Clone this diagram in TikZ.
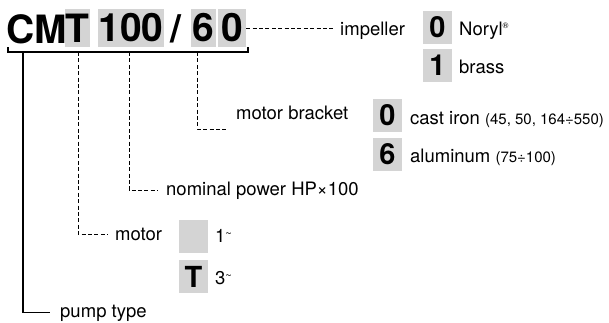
\documentclass[tikz,border=0pt]{standalone}
\usepackage{fontspec}
\setmainfont{TeX Gyre Heros}
\usepackage{tikz}
\definecolor{boxgray}{RGB}{212,212,212}
\newcommand{\sfont}[1]{{\fontsize{15}{15}\selectfont #1}}
\newcommand{\tld}{\raisebox{0.45ex}{\fontsize{11}{11}\selectfont\textasciitilde}}
\tikzset{
  title/.style={font=\fontsize{39}{39}\selectfont\bfseries, inner sep=0},
  tbox/.style={title, fill=boxgray, minimum height=38},
  code/.style={fill=boxgray, minimum width=29, minimum height=33, inner sep=0,
    font=\fontsize{29}{29}\selectfont\bfseries},
  lbl/.style={font=\fontsize{18.5}{20}\selectfont, inner sep=0, anchor=base west},
  lead/.style={dash pattern=on 4pt off 2.4pt, line width=0.8pt},
  trunk/.style={line width=1.2pt}
}

\begin{document}
\begin{tikzpicture}[x=1pt, y=-1pt]
  \useasboundingbox (0,0) rectangle (609,322);
  % type code
  \node[title, anchor=base west] (cm) at (6,43) {CM};
  \node[tbox, minimum width=25] (tT) at (77.5,28) {T};
  \node[tbox, minimum width=66] (t100) at (131,28) {100};
  \node[title] (slash) at (176,29) {/};
  \node[tbox, minimum width=25] (t6) at (203.5,28) {6};
  \node[tbox, minimum width=28] (t0) at (232,28) {0};

  % bracket under the code
  \coordinate (bl) at (8,47);
  \coordinate (br) at (248,47);
  \draw[trunk] (bl) -- ++(0,5) -| (br);
  \coordinate (cP) at (23,52);
  \coordinate (cT) at (78,52);
  \coordinate (cW) at (129,52);
  \coordinate (cB) at (197,52);

  % impeller
  \node[lbl] (imp) at (340,35) {impeller};
  \node[code] (imp0) at (437.5,27) {0};
  \node[code] (imp1) at (437.5,65) {1};
  \node[lbl] (noryl) at (459,35) {Noryl\raisebox{0.7ex}{\fontsize{8}{8}\selectfont\textregistered}};
  \node[lbl] (brass) at (459,73) {brass};
  \draw[lead] (t0.east) -- (t0.east -| imp.west) [shorten >=7pt];

  % motor bracket
  \node[lbl] (bkt) at (236,119) {motor bracket};
  \node[code] (bkt0) at (387.5,115) {0};
  \node[code] (bkt6) at (387.5,154.5) {6};
  \node[lbl] (iron) at (410,124) {cast iron \sfont{(45, 50, 164÷550)}};
  \node[lbl] (alu) at (410,162) {aluminum \sfont{(75÷100)}};
  \coordinate (bktend) at (227,129);
  \draw[lead] (cB) |- (bktend);

  % nominal power
  \node[lbl] (pow) at (166,195) {nominal power HP×100};
  \draw[lead, shorten >=8pt] (cW) |- (pow.west);

  % motor
  \node[lbl] (mot) at (115,240) {motor};
  \node[code] (mot1) at (193.5,236.5) {};
  \node[code] (motT) at (193.5,276.5) {T};
  \node[lbl] (ph1) at (215,242) {1\tld};
  \node[lbl] (ph3) at (215,284) {3\tld};
  \draw[lead, shorten >=7pt] (cT) |- (mot.west);

  % pump type
  \node[lbl] (pump) at (60,317) {pump type};
  \draw[trunk, shorten >=10pt] (cP) |- (pump.west);
\end{tikzpicture}
\end{document}
